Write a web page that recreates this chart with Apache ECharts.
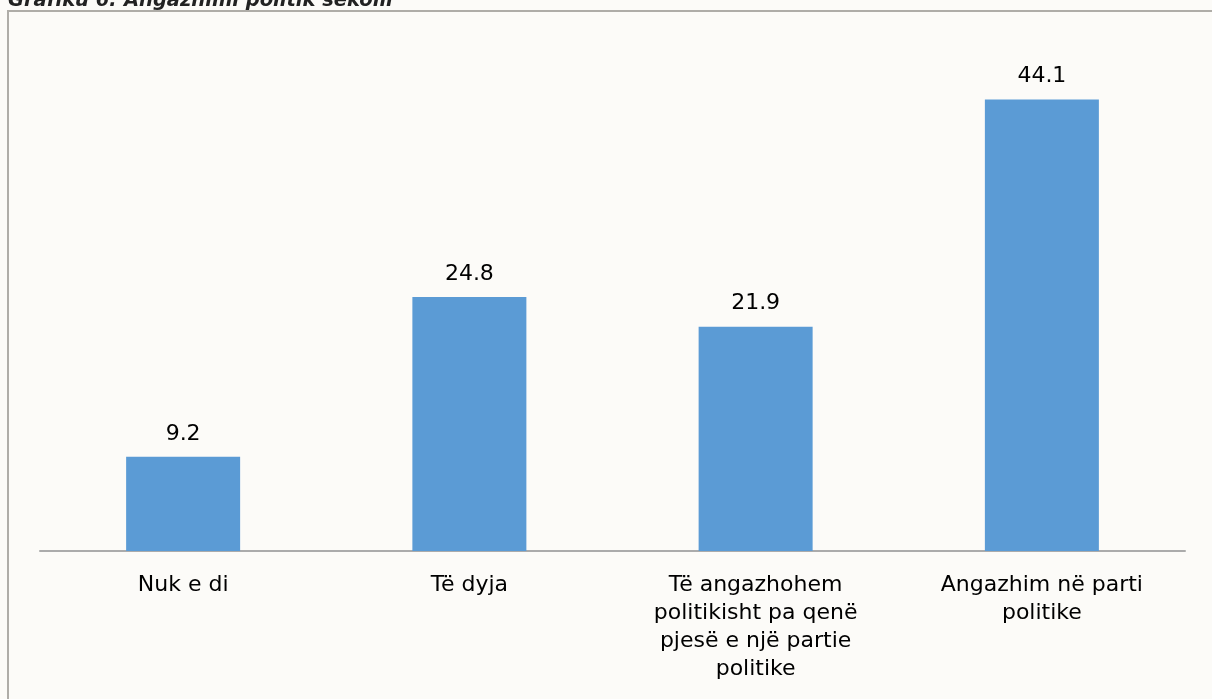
<!DOCTYPE html>
<html>
<head>
<meta charset="utf-8">
<script src="https://cdn.jsdelivr.net/npm/echarts@6/dist/echarts.min.js"></script>
<style>
    html, body { margin: 0; padding: 0; background: #FCFBF8; }
    #chart { width: 1212px; height: 699px; }
</style>
</head>
<body>
<div id="chart"></div>
<script>
// categories and values
var categories = [
    'Nuk e di',
    'Të dyja',
    'Të angazhohem\npolitikisht pa qenë\npjesë e një partie\npolitike',
    'Angazhim në parti\npolitike'
];
var values = [9.2, 24.8, 21.9, 44.1];
var titleText = 'Grafiku 6: Angazhimi politik sekolli';

var chart = echarts.init(document.getElementById('chart'));

var option = {
    backgroundColor: '#FCFBF8',
    animation: false,
    graphic: [
        {
            // frame round the chart
            type: 'rect',
            shape: { x: 8, y: 11, width: 1240, height: 740 },
            style: { fill: 'none', stroke: '#AFADA8', lineWidth: 2 }
        },
        {
            // title, cut off at the top
            type: 'text',
            left: 8,
            top: -9,
            style: {
                text: titleText,
                font: 'italic bold 19.5px "DejaVu Sans"',
                fill: '#222'
            }
        }
    ],
    grid: {
        left: 40,
        right: 27,
        top: 39,
        bottom: 148
    },
    xAxis: {
        type: 'category',
        data: categories,
        axisLine: { lineStyle: { color: '#ABABAB', width: 2 } },
        axisTick: { show: false },
        axisLabel: {
            interval: 0,
            margin: 20,
            color: '#000',
            fontSize: 22,
            fontFamily: 'DejaVu Sans',
            lineHeight: 28
        }
    },
    yAxis: {
        type: 'value',
        min: 0,
        max: 50,
        show: false
    },
    series: [{
        type: 'bar',
        data: values,
        barWidth: 114,
        itemStyle: { color: '#5B9BD5' },
        label: {
            show: true,
            position: 'top',
            distance: 12,
            color: '#000',
            fontSize: 22,
            fontFamily: 'DejaVu Sans'
        }
    }]
};

chart.setOption(option);
</script>
</body>
</html>
